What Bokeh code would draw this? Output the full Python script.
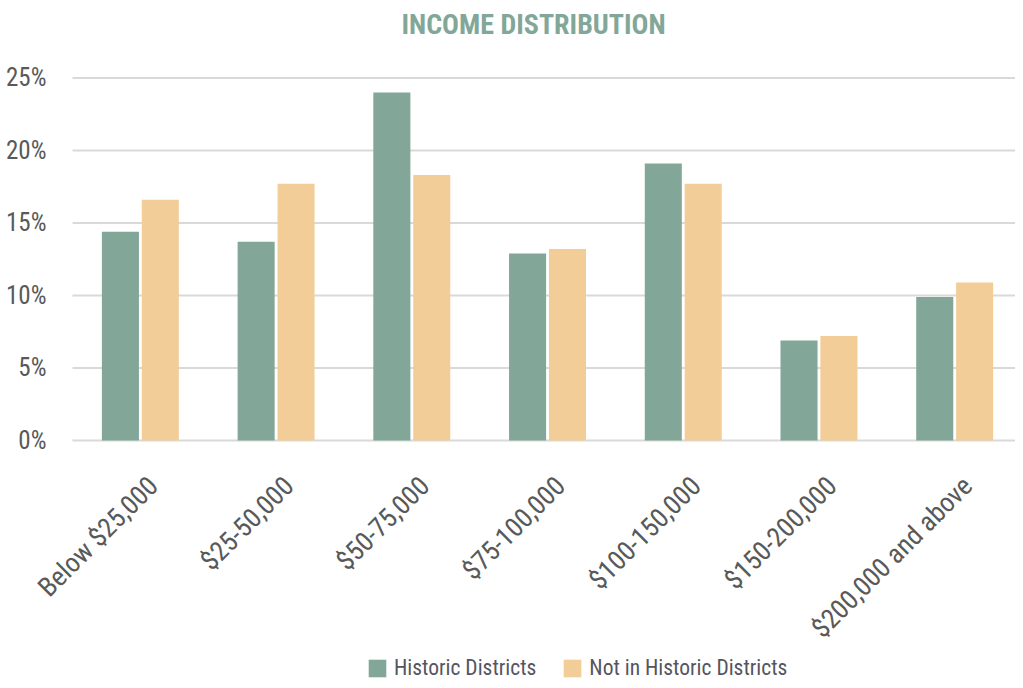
from math import pi
from bokeh.plotting import figure
from bokeh.models import ColumnDataSource, Range1d, Legend, LegendItem
from bokeh.core.properties import value
from bokeh.transform import dodge
from bokeh.embed import file_html
from bokeh.resources import INLINE

categories = ["Below $25,000", "$25-50,000", "$50-75,000", "$75-100,000",
              "$100-150,000", "$150-200,000", "$200,000 and above"]
historic = [14.4, 13.7, 24.0, 12.9, 19.1, 6.9, 9.9]
not_historic = [16.6, 17.7, 18.3, 13.2, 17.7, 7.2, 10.9]
series_names = ["Historic Districts", "Not in Historic Districts"]
y_ticks = [0, 5, 10, 15, 20, 25]
title_text = "INCOME DISTRIBUTION"

GREEN = "#82a798"
TAN = "#f2cd98"
TEXT = "#595959"
FONT = "Roboto Condensed"

# category i occupies [i, i+1] on the x scale; the frame spans the whole figure
X_START, X_END = -0.5305, 6.948
pos = [i + 0.5 for i in range(len(categories))]
src = ColumnDataSource(dict(cat=categories, pos=pos, h=historic, n=not_historic))

p = figure(x_range=Range1d(X_START, X_END), y_range=Range1d(-16.55, 30.34),
           width=1015, height=680, output_backend="svg", toolbar_location=None,
           min_border_left=0, min_border_right=0, min_border_top=0, min_border_bottom=0)
p.xaxis.visible = False
p.yaxis.visible = False
p.grid.visible = False
p.outline_line_color = None

# horizontal gridlines across the category area
p.segment(x0=[0] * len(y_ticks), x1=[len(categories)] * len(y_ticks), y0=y_ticks, y1=y_ticks,
          line_color="#d9d9d9", line_width=2)

r1 = p.vbar(x=dodge("pos", -0.147), top="h", width=0.273, source=src,
            fill_color=GREEN, line_color=None)
r2 = p.vbar(x=dodge("pos", 0.147), top="n", width=0.273, source=src,
            fill_color=TAN, line_color=None)

# title
p.text(x=[3.397], y=[28.69], text=[title_text], text_font=value(FONT), text_font_size="28px",
       text_font_style="bold", text_color=GREEN, text_align="center", text_baseline="middle")

# y tick labels
p.text(x=[X_START] * len(y_ticks), y=y_ticks, text=[f"{t}%" for t in y_ticks], x_offset=46,
       text_font=value(FONT), text_font_size="25px", text_color=TEXT,
       text_align="right", text_baseline="middle")

# category labels (rotated)
p.text(x="pos", y=-2.83, text="cat", source=src, angle=pi / 4, x_offset=13,
       text_font=value(FONT), text_font_size="27px", text_color=TEXT,
       text_align="right", text_baseline="middle")

legend = Legend(items=[LegendItem(label=series_names[0], renderers=[r1]),
                       LegendItem(label=series_names[1], renderers=[r2])],
                orientation="horizontal", location=(366, 0),
                label_text_font=FONT, label_text_font_size="21.5px", label_text_color="#55555f",
                glyph_width=22, glyph_height=22, label_standoff=6, spacing=25,
                border_line_color=None, background_fill_alpha=0, padding=0, margin=0)
p.add_layout(legend, "center")

open("out.html", "w").write(file_html(p, INLINE))
